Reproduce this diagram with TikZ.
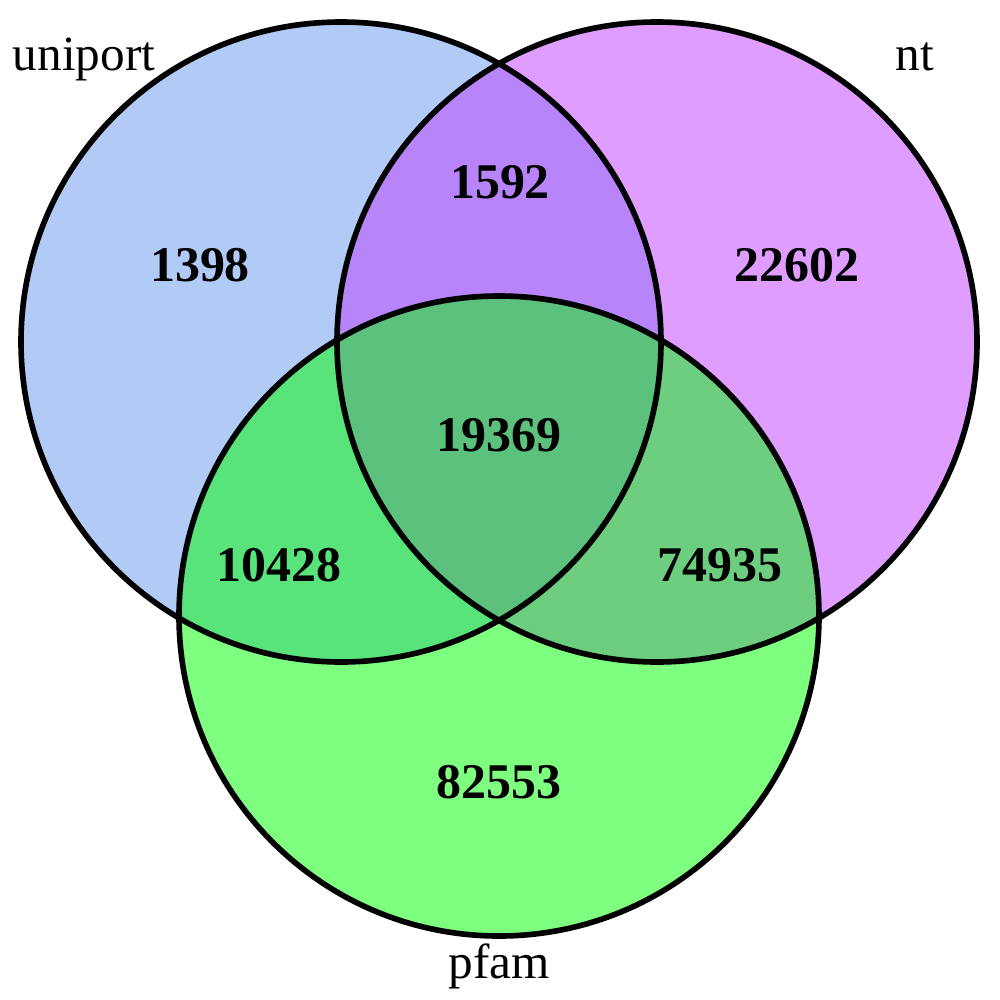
\documentclass[tikz,border=0pt]{standalone}
\usepackage{fontspec}
\setmainfont{Liberation Serif}
\usepackage{xcolor}
\definecolor{uniblue}{RGB}{100,149,237}
\definecolor{ntpurple}{RGB}{191,62,255}
\definecolor{pfamgreen}{RGB}{0,255,0}

\begin{document}
\begin{tikzpicture}[x=0.01cm,y=-0.01cm,
  set/.style={fill=#1,fill opacity=0.5},
  rim/.style={draw=black,line width=1.6pt},
  count/.style={font=\fontsize{14.2}{16}\selectfont\bfseries,inner sep=0pt},
  setname/.style={font=\fontsize{14}{16}\selectfont,inner sep=0pt,anchor=base}]
\useasboundingbox (0,0) rectangle (1000,1000);
\fill[set=uniblue] (341,342) circle (320);
\fill[set=ntpurple] (657,342) circle (320);
\fill[set=pfamgreen] (499,616) circle (320);
\draw[rim] (341,342) circle (320);
\draw[rim] (657,342) circle (320);
\draw[rim] (499,616) circle (320);

\node[count] (uonly) at (200,265) {1398};
\node[count] (un) at (500,182) {1592};
\node[count] (nonly) at (797,265) {22602};
\node[count] (unp) at (499,435) {19369};
\node[count] (up) at (279,565) {10428};
\node[count] (np) at (720,565) {74935};
\node[count] (ponly) at (499,782) {82553};

\node[setname] (uniport) at (84,70) {uniport};
\node[setname] (nt) at (915,70) {nt};
\node[setname] (pfam) at (499,978) {pfam};
\end{tikzpicture}
\end{document}
